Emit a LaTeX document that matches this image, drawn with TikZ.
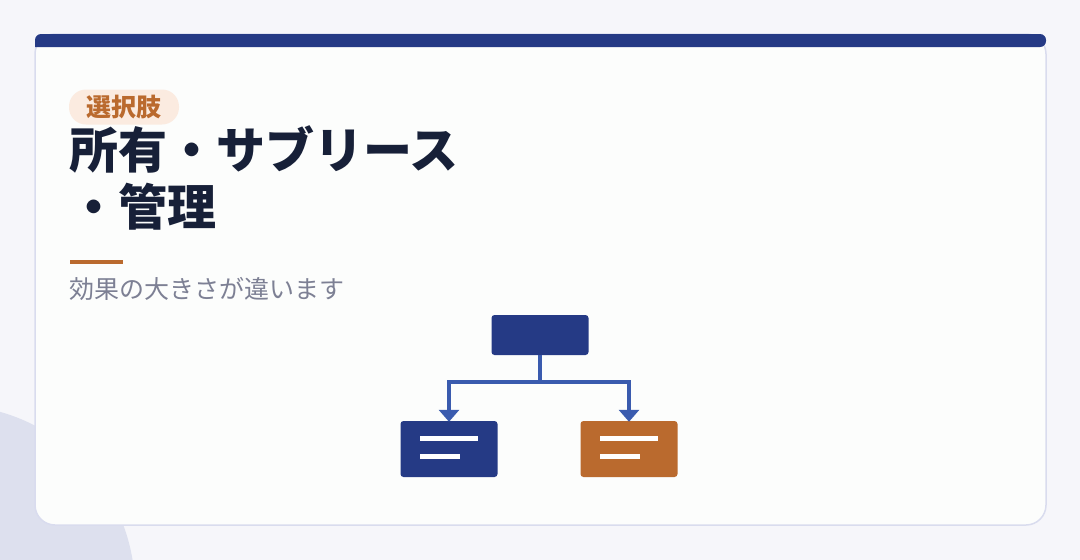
\documentclass[tikz,border=0pt]{standalone}
\usepackage{fontspec}
\newfontfamily\cjk{Noto Sans CJK JP}
\usetikzlibrary{positioning,arrows.meta}
\definecolor{slidebg}{HTML}{F6F6FA}
\definecolor{blobgray}{HTML}{DDE0EE}
\definecolor{cardwhite}{HTML}{FCFDFC}
\definecolor{cardline}{HTML}{D9DCEE}
\definecolor{navy}{HTML}{253A85}
\definecolor{linkblue}{HTML}{3A5BAE}
\definecolor{rust}{HTML}{BA6A2E}
\definecolor{peach}{HTML}{FBEBE0}
\definecolor{inkdark}{HTML}{172038}
\definecolor{subgray}{HTML}{7D8094}

\begin{document}
\begin{tikzpicture}[x=1pt,y=-1pt,
      box/.style={minimum width=97pt,rounded corners=3pt,inner sep=0pt},
      bar/.style={draw=white,line width=4.5pt},
      link/.style={draw=linkblue,line width=4pt,-{Triangle[width=20pt,length=12pt]}}]
    \useasboundingbox (0,0) rectangle (1080,560);
    \fill[slidebg] (0,0) rectangle (1080,560);
    \begin{scope}
      \clip (0,0) rectangle (1080,560);
      \fill[blobgray] (-50,590) circle[radius=185];
    \end{scope}
    % card
    \filldraw[fill=cardwhite,draw=cardline,line width=1.5pt,rounded corners=20pt] (35,34) rectangle (1046,525);
    \fill[navy,rounded corners=6pt] (35,47) -- (35,34) -- (1046,34) -- (1046,47) [sharp corners] -- cycle;
    % heading
    \node[fill=peach,rounded corners=17pt,minimum width=110pt,minimum height=35pt,inner sep=0pt,
          text=rust,font=\cjk\bfseries\fontsize{25}{30}\selectfont] (badge) at (124,107) {選択肢};
    \node[anchor=north west,align=left,inner sep=0pt,text=inkdark,
          font=\cjk\bfseries\fontsize{49}{57}\selectfont] (title) at (69,125) {所有・サブリース\\・管理};
    \fill[rust] (70,260) rectangle (123,264);
    \node[anchor=west,inner sep=0pt,text=subgray,font=\cjk\fontsize{25}{30}\selectfont] (sub) at (69,289) {効果の大きさが違います};
    % tree
    \node[box,fill=navy,minimum height=40pt] (root) at (540,335) {};
    \node[box,fill=navy,minimum height=56pt] (left) at (449,449) {};
    \node[box,fill=rust,minimum height=56pt] (right) at (629,449) {};
    \draw[link] (root.south) -- ++(0,27) -| ([yshift=-1pt]left.north);
    \draw[link] (root.south) -- ++(0,27) -| ([yshift=-1pt]right.north);
    \foreach \b in {left,right} {
      \draw[bar] ([xshift=-29pt,yshift=10.5pt]\b.center) -- ++(58,0);
      \draw[bar] ([xshift=-29pt,yshift=-7.5pt]\b.center) -- ++(40,0);
    }
  \end{tikzpicture}
\end{document}
